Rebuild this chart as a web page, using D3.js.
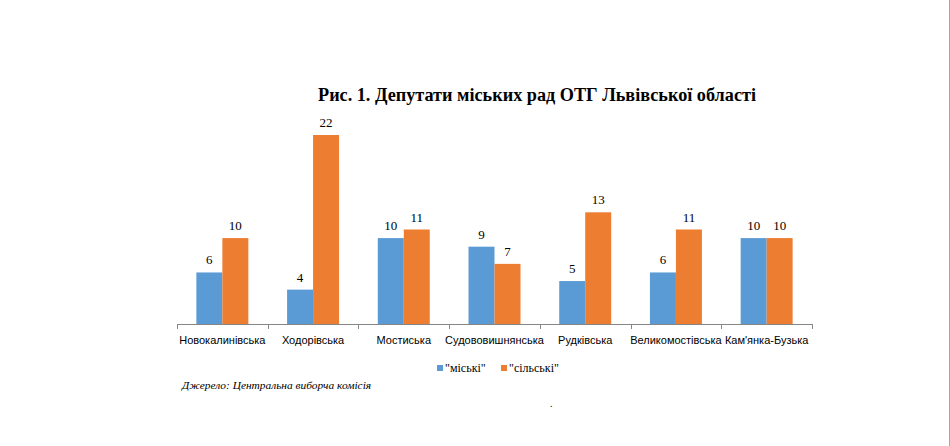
<!DOCTYPE html>
<html>
<head>
<meta charset="utf-8">
<script src="https://cdn.jsdelivr.net/npm/d3@7"></script>
<style>
  body { margin: 0; background: #fff; }
  svg { display: block; }
</style>
</head>
<body>
<svg id="chart" width="950" height="446"></svg>
<script>
// data
var categories = [
  "Новокалинівська",
  "Ходорівська",
  "Мостиська",
  "Судововишнянська",
  "Рудківська",
  "Великомостівська",
  "Кам'янка-Бузька",
];
var series = ['"міські"', '"сільські"'];
var miski = [6, 4, 10, 9, 5, 6, 10];
var silski = [10, 22, 11, 7, 13, 11, 10];
var colors = ["#5B9BD5", "#ED7D31"];

var titleText = "Рис. 1. Депутати міських рад ОТГ Львівської області";
var sourceText = "Джерело: Центральна виборча комісія";

var svg = d3.select("#chart");

var left = 177,
  right = 812,
  base = 324;

var x0 = d3.scaleBand().domain(categories).range([left, right]).paddingInner(0).paddingOuter(0);
var x1 = d3.scaleBand().domain(series).range([0, x0.bandwidth()]).paddingInner(0).paddingOuter(0.745);
var y = d3.scaleLinear().domain([0, 22]).range([base, 135]);
var color = d3.scaleOrdinal().domain(series).range(colors);

var rows = categories.map(function (c, i) {
  return { cat: c, values: [miski[i], silski[i]] };
});

// right border of the picture
svg
  .append("line")
  .attr("x1", 949.5)
  .attr("x2", 949.5)
  .attr("y1", 0)
  .attr("y2", 446)
  .attr("stroke", "#a6a6a6")
  .attr("stroke-width", 1);

// title
svg
  .append("text")
  .attr("x", 537)
  .attr("y", 101)
  .attr("text-anchor", "middle")
  .style("font-family", "'Liberation Serif', serif")
  .style("font-weight", "bold")
  .style("font-size", "18.2px")
  .text(titleText);

// bars
var groups = svg
  .selectAll(".grp")
  .data(rows)
  .enter()
  .append("g")
  .attr("class", "grp")
  .attr("transform", function (d) {
    return "translate(" + x0(d.cat) + ",0)";
  });

groups
  .selectAll("rect")
  .data(function (d) {
    return d.values.map(function (v, j) {
      return { key: series[j], value: v };
    });
  })
  .enter()
  .append("rect")
  .attr("x", function (d) {
    return x1(d.key);
  })
  .attr("y", function (d) {
    return y(d.value);
  })
  .attr("width", x1.bandwidth())
  .attr("height", function (d) {
    return base - y(d.value);
  })
  .attr("fill", function (d) {
    return color(d.key);
  });

groups
  .selectAll(".val")
  .data(function (d) {
    return d.values.map(function (v, j) {
      return { key: series[j], value: v };
    });
  })
  .enter()
  .append("text")
  .attr("class", "val")
  .attr("x", function (d) {
    return x1(d.key) + x1.bandwidth() / 2;
  })
  .attr("y", function (d) {
    return y(d.value) - 8;
  })
  .attr("text-anchor", "middle")
  .style("font-family", "'Liberation Serif', serif")
  .style("font-size", "13px")
  .style("fill", "#000")
  .text(function (d) {
    return d.value;
  });

// category axis
var axis = svg.append("g").attr("class", "axis");
axis
  .append("line")
  .attr("x1", left)
  .attr("x2", right)
  .attr("y1", base + 0.5)
  .attr("y2", base + 0.5)
  .attr("stroke", "#868686");

var bounds = categories.map(function (c) {
  return x0(c);
}).concat([right]);

axis
  .selectAll(".tick")
  .data(bounds)
  .enter()
  .append("line")
  .attr("class", "tick")
  .attr("x1", function (d) {
    return Math.round(d) + 0.5;
  })
  .attr("x2", function (d) {
    return Math.round(d) + 0.5;
  })
  .attr("y1", base)
  .attr("y2", base + 5)
  .attr("stroke", "#868686");

axis
  .selectAll(".lbl")
  .data(categories)
  .enter()
  .append("text")
  .attr("class", "lbl")
  .attr("x", function (d) {
    return x0(d) + x0.bandwidth() / 2;
  })
  .attr("y", 344)
  .attr("text-anchor", "middle")
  .style("font-family", "'Liberation Sans', sans-serif")
  .style("font-size", "11px")
  .style("fill", "#000")
  .text(function (d) {
    return d;
  });

// legend
var legendX = [437, 501];
var legend = svg
  .selectAll(".leg")
  .data(series)
  .enter()
  .append("g")
  .attr("class", "leg")
  .attr("transform", function (d, i) {
    return "translate(" + legendX[i] + ",365)";
  });

legend
  .append("rect")
  .attr("width", 6)
  .attr("height", 6)
  .attr("fill", function (d) {
    return color(d);
  });

legend
  .append("text")
  .attr("x", 8)
  .attr("y", 7)
  .style("font-family", "'Liberation Serif', serif")
  .style("font-size", "12px")
  .text(function (d) {
    return d;
  });

// source note
svg
  .append("text")
  .attr("x", 182)
  .attr("y", 389)
  .style("font-family", "'Liberation Serif', serif")
  .style("font-style", "italic")
  .style("font-size", "11.4px")
  .text(sourceText);

svg
  .append("text")
  .attr("x", 550)
  .attr("y", 407)
  .style("font-family", "'Liberation Serif', serif")
  .style("font-size", "10px")
  .text(".");
</script>
</body>
</html>
